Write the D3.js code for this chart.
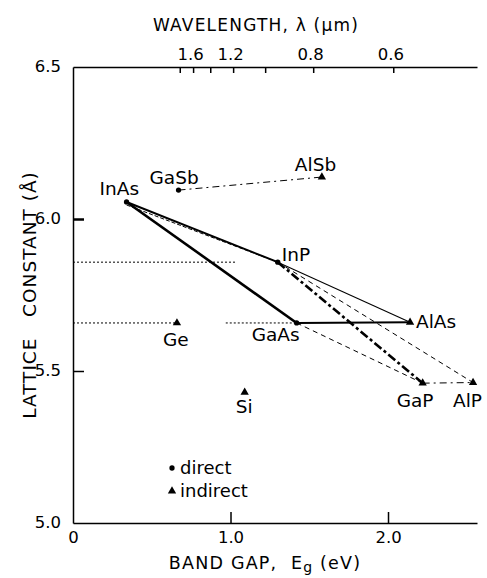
<!DOCTYPE html>
<html>
<head>
<meta charset="utf-8">
<script src="https://cdn.jsdelivr.net/npm/d3@7"></script>
<style>
  body { margin: 0; background: #fff; }
  svg text { font-family: "DejaVu Sans", sans-serif; fill: #000; }
</style>
</head>
<body>
<svg id="chart"></svg>
<script>
// compounds: band gap (eV), lattice constant (Angstrom), direct / indirect gap
const names = ["InAs", "GaSb", "AlSb", "InP", "GaAs", "AlAs", "GaP", "AlP", "Ge", "Si"];
const bandGap = [0.34, 0.67, 1.58, 1.30, 1.42, 2.14, 2.22, 2.54, 0.66, 1.09];
const lattice = [6.056, 6.095, 6.138, 5.858, 5.658, 5.660, 5.460, 5.462, 5.658, 5.430];
const gapType = ["direct", "direct", "indirect", "direct", "direct", "indirect", "indirect", "indirect", "indirect", "indirect"];

// alloy lines between compounds, with the line style used for each
const linkFrom = ["InAs", "InAs", "InAs", "GaAs", "InP", "InP", "InP", "GaAs", "GaP", "GaSb"];
const linkTo = ["GaAs", "InP", "InP", "AlAs", "AlAs", "GaP", "AlP", "GaP", "AlP", "AlSb"];
const linkKind = ["heavy", "solid", "dashedTwin", "solid", "thin", "heavyDash", "dash", "dash", "dashDot", "dashDot"];

// dotted reference lines (lattice constant, from band gap, to band gap)
const guideLattice = [5.858, 5.658, 5.658];
const guideFrom = [0, 0, 0.97];
const guideTo = [1.04, 0.66, 1.42];

// axis ticks
const gapTicks = [0, 1.0, 2.0];
const latticeTicks = [5.0, 5.5, 6.0, 6.5];
const waveTicks = [1.8, 1.6, 1.4, 1.2, 1.0, 0.8, 0.6];
const waveLabels = [1.6, 1.2, 0.8, 0.6];

const legendTypes = ["direct", "indirect"];

//Conversion between photon energy and wavelength as drawn on the original scale
const hc = 1.22;

const W = 487, H = 578;
const svg = d3.select("#chart").attr("width", W).attr("height", H);

const x = d3.scaleLinear().domain([0, 2.565]).range([73, 477]);
const y = d3.scaleLinear().domain([5.0, 6.5]).range([523, 67]);

const pts = names.map((n, i) => ({name: n, e: bandGap[i], a: lattice[i], type: gapType[i]}));
const byName = {};
pts.forEach(p => byName[p.name] = p);

const styles = {
    heavy: {w: 2.6, dash: null},
    solid: {w: 2.0, dash: null},
    dashedTwin: {w: 1.0, dash: "4,2", dy: 3},
    thin: {w: 1.1, dash: null},
    heavyDash: {w: 2.6, dash: "9,3,3,3"},
    dash: {w: 1.0, dash: "5,4"},
    dashDot: {w: 1.0, dash: "7,4,2,4"}
};

//Dotted guide lines from the left axis
svg.append("g").selectAll("line")
    .data(guideLattice.map((a, i) => ({a: a, e0: guideFrom[i], e1: guideTo[i]})))
    .join("line")
    .attr("x1", d => x(d.e0))
    .attr("x2", d => x(d.e1))
    .attr("y1", d => y(d.a))
    .attr("y2", d => y(d.a))
    .attr("stroke", "#000")
    .attr("stroke-width", 1)
    .attr("stroke-dasharray", "2,2");

//Alloy lines
svg.append("g").selectAll("line")
    .data(linkFrom.map((f, i) => ({s: byName[f], t: byName[linkTo[i]], st: styles[linkKind[i]]})))
    .join("line")
    .attr("x1", d => x(d.s.e))
    .attr("y1", d => y(d.s.a) + (d.st.dy || 0))
    .attr("x2", d => x(d.t.e))
    .attr("y2", d => y(d.t.a))
    .attr("stroke", "#000")
    .attr("stroke-width", d => d.st.w)
    .attr("stroke-dasharray", d => d.st.dash);

//Axes: left, bottom, top (no right frame)
const axisStyle = g => {
    g.select(".domain").attr("stroke-width", 1.5);
    g.selectAll(".tick line").attr("stroke-width", 1.5);
    g.selectAll("text").attr("font-size", 16.5);
};

svg.append("g")
    .attr("transform", "translate(" + x(0) + ",0)")
    .call(d3.axisLeft(y).tickValues(latticeTicks).tickSize(-11).tickSizeOuter(0)
        .tickFormat(d3.format(".1f")))
    .call(axisStyle)
    .call(g => g.selectAll(".tick text").attr("x", -12).attr("dy", "0.25em"))
    .call(g => g.selectAll(".tick").filter(d => d === 6.0).select("line").attr("stroke-width", 2.5))
    .call(g => g.selectAll(".tick").filter(d => d === 5.0 || d === 6.5).select("line").remove());

svg.append("g")
    .attr("transform", "translate(0," + y(5.0) + ")")
    .call(d3.axisBottom(x).tickValues(gapTicks).tickSize(-11).tickSizeOuter(0)
        .tickFormat(d => d === 0 ? "0" : d3.format(".1f")(d)))
    .call(axisStyle)
    .call(g => g.selectAll(".tick text").attr("y", 7).attr("dy", "0.8em"))
    .call(g => g.selectAll(".tick").filter(d => d === 0).select("line").remove());

svg.append("g")
    .attr("transform", "translate(0," + y(6.5) + ")")
    .call(d3.axisTop(x).tickValues(waveTicks.map(l => hc / l)).tickSize(-6).tickSizeOuter(0)
        .tickFormat((e, i) => waveLabels.includes(waveTicks[i]) ? d3.format(".1f")(waveTicks[i]) : ""))
    .call(axisStyle)
    .call(g => g.selectAll(".tick text").attr("y", -7).attr("dx", -3));

//Markers: dots for direct gap, triangles for indirect gap
const sym = d3.symbol().type(d => d === "direct" ? d3.symbolCircle : d3.symbolTriangle)
    .size(d => d === "direct" ? 22 : 30);

svg.append("g").selectAll("path")
    .data(pts)
    .join("path")
    .attr("transform", d => "translate(" + x(d.e) + "," + y(d.a) + ")")
    .attr("d", d => sym(d.type))
    .attr("fill", "#000");

//Compound labels, placed relative to their point
const labelOffset = {
    InAs: [-27, -7], GaSb: [-29, -6], AlSb: [-27, -6], InP: [4, -1], GaAs: [-45, 18],
    AlAs: [6, 6], GaP: [-26, 24], AlP: [-20, 24], Ge: [-14, 23], Si: [-9, 21]
};
svg.append("g").selectAll("text")
    .data(pts)
    .join("text")
    .attr("x", d => x(d.e) + labelOffset[d.name][0])
    .attr("y", d => y(d.a) + labelOffset[d.name][1])
    .attr("font-size", 18.5)
    .text(d => d.name);

//Legend
const legend = svg.append("g").attr("transform", "translate(172,468)");
legend.selectAll("g")
    .data(legendTypes)
    .join("g")
    .attr("transform", (d, i) => "translate(0," + i * 23 + ")")
    .call(g => g.append("path").attr("d", d => sym(d)).attr("fill", "#000"))
    .call(g => g.append("text").attr("x", 8).attr("y", 6).attr("font-size", 18).text(d => d));

//Axis titles
svg.append("text")
    .attr("x", 256).attr("y", 31)
    .attr("text-anchor", "middle")
    .attr("font-size", 17)
    .attr("letter-spacing", 1.2)
    .text("WAVELENGTH, λ (μm)");

const xt = svg.append("text")
    .attr("x", 265).attr("y", 569)
    .attr("text-anchor", "middle")
    .attr("font-size", 17.5)
    .attr("letter-spacing", 1.2)
    .style("white-space", "pre");
xt.append("tspan").text("BAND GAP,  E");
xt.append("tspan").attr("dy", 3).attr("font-size", 14).text("g");
xt.append("tspan").attr("dy", -3).text(" (eV)");

svg.append("text")
    .attr("transform", "translate(36,295) rotate(-90)")
    .attr("text-anchor", "middle")
    .attr("font-size", 18.5)
    .attr("letter-spacing", 1)
    .style("white-space", "pre")
    .text("LATTICE   CONSTANT (Å)");
</script>
</body>
</html>
